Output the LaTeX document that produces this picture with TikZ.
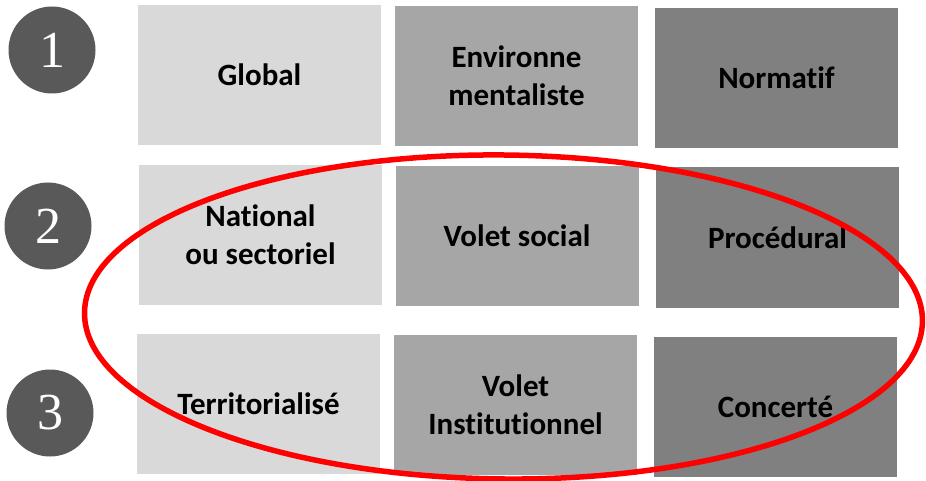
\documentclass[tikz,border=0pt]{standalone}
\usepackage{fontspec}
\setmainfont{Carlito}[Ligatures={NoCommon}]
\newfontfamily\numfont{Liberation Serif}
\usetikzlibrary{positioning}
\definecolor{paleGray}{RGB}{217,217,217}
\definecolor{midGray}{RGB}{166,166,166}
\definecolor{darkGray}{RGB}{128,128,128}
\definecolor{discGray}{RGB}{89,89,89}
\definecolor{ringRed}{RGB}{255,0,0}

\begin{document}
\begin{tikzpicture}[
  x=1pt, y=-1pt,
  font=\fontsize{31}{38}\selectfont\bfseries,
  cell/.style={minimum width=243pt, minimum height=140pt, inner sep=0pt, align=center, text=black},
  lightcell/.style={cell, fill=paleGray},
  midcell/.style={cell, fill=midGray},
  darkcell/.style={cell, fill=darkGray},
  disc/.style={circle, fill=discGray, minimum size=87pt, inner sep=0pt, text=white,
               font=\numfont\fontsize{52}{52}\selectfont},
  ring/.style={draw=ringRed, line width=5.5pt}]
\useasboundingbox (0,0) rectangle (926,481);
% level discs
\node[disc] (one) at (52,50) {1};
\node[disc] (two) at (48,226) {2};
\node[disc] (three) at (50,413) {3};
% top row
\node[lightcell] (global) at (259.5,75) {Global};
\node[midcell] (envmen) at (516.5,76) {Environne\\mentaliste};
\node[darkcell] (normatif) at (776.5,78) {Normatif};
% middle row
\node[lightcell] (national) at (260.5,235) {National\\ou sectoriel};
\node[midcell] (social) at (517,236) {Volet social};
\node[darkcell] (procedural) at (777.5,237.5) {Procédural};
% bottom row
\node[lightcell] (territ) at (258.5,403.5) {Territorialisé};
\node[midcell] (instit) at (515.5,404.5) {Volet\\Institutionnel};
\node[darkcell] (concerte) at (775.5,407) {Concerté};
% red ring round rows 2 and 3
\coordinate (ringc) at (503.5,317);
\draw[ring, rotate around={-0.6:(ringc)}] (ringc) ellipse [x radius=419pt, y radius=162pt];
\end{tikzpicture}
\end{document}
